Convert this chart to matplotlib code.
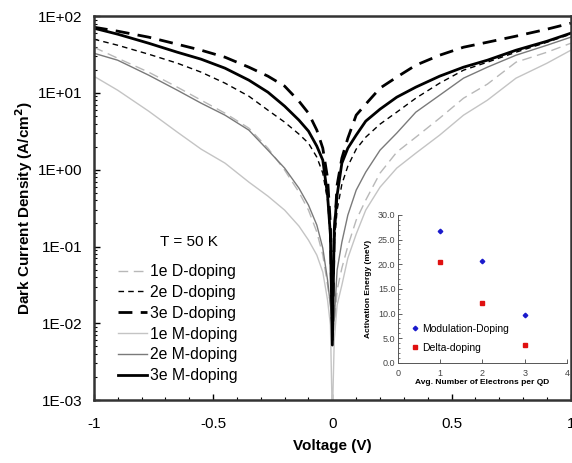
import numpy as np
import matplotlib
matplotlib.use("Agg")
import matplotlib.pyplot as plt
from matplotlib.ticker import LogLocator, MultipleLocator, FixedLocator, NullFormatter

plt.rcParams['font.family'] = ['Liberation Sans', 'DejaVu Sans']

# voltage sample points (V)
voltage = [-1, -0.9, -0.77, -0.65, -0.55, -0.45, -0.35, -0.27, -0.2, -0.14, -0.1,
           -0.065, -0.04, -0.02, -0.008, 0, 0.008, 0.02, 0.04, 0.065, 0.1,
           0.14, 0.2, 0.27, 0.35, 0.45, 0.55, 0.65, 0.77, 0.9, 1]

# log10 of dark current density (A/cm^2)
log_d1 = [1.596, 1.453, 1.271, 1.076, 0.906, 0.737, 0.542, 0.281, -0.005, -0.292, -0.526,
          -0.812, -1.112, -1.503, -1.763, -1.958, -2.089, -1.568, -1.281, -0.995, -0.656,
          -0.396, -0.044, 0.229, 0.424, 0.672, 0.932, 1.115, 1.401, 1.531, 1.648]
log_d2 = [1.701, 1.622, 1.505, 1.388, 1.271, 1.128, 0.958, 0.776, 0.620, 0.464, 0.346,
          0.164, -0.044, -0.396, -0.917, -2.089, -0.982, -0.526, -0.188, 0.047, 0.268,
          0.424, 0.594, 0.750, 0.932, 1.128, 1.297, 1.401, 1.531, 1.661, 1.766]
log_d3 = [1.857, 1.805, 1.727, 1.635, 1.557, 1.466, 1.336, 1.219, 1.089, 0.893, 0.737,
          0.516, 0.281, -0.109, -0.721, -2.219, -0.852, -0.201, 0.151, 0.411, 0.711,
          0.854, 1.063, 1.206, 1.362, 1.492, 1.596, 1.661, 1.740, 1.831, 1.909]
log_m1 = [1.219, 1.036, 0.763, 0.490, 0.268, 0.086, -0.161, -0.344, -0.526, -0.734, -0.917,
          -1.112, -1.333, -1.698, -2.023, -3.26, -2.219, -1.763, -1.503, -1.151, -0.839,
          -0.526, -0.227, 0.021, 0.216, 0.451, 0.711, 0.906, 1.193, 1.388, 1.557]
log_m2 = [1.518, 1.427, 1.232, 1.036, 0.867, 0.711, 0.516, 0.255, 0.021, -0.240, -0.461,
          -0.721, -1.021, -1.438, -1.763, -2.089, -1.958, -1.307, -0.943, -0.591, -0.266,
          -0.031, 0.255, 0.477, 0.750, 0.971, 1.193, 1.336, 1.492, 1.622, 1.727]
log_m3 = [1.844, 1.766, 1.648, 1.531, 1.440, 1.323, 1.167, 1.010, 0.828, 0.646, 0.503,
          0.307, 0.125, -0.331, -0.852, -2.284, -0.786, -0.331, 0.086, 0.281, 0.451,
          0.633, 0.789, 0.945, 1.076, 1.219, 1.336, 1.427, 1.557, 1.674, 1.779]

# inset: activation energy (meV) vs electrons per QD
electrons = [1, 2, 3]
ea_mod = [26.7, 20.7, 9.8]
ea_delta = [20.5, 12.2, 3.6]

fig = plt.figure(figsize=(5.72, 4.63), dpi=100)
ax = fig.add_axes([0.164, 0.136, 0.834, 0.829])

curves = [
    (log_d1, dict(color='#b8b8b8', lw=1.0, ls=(0, (7, 4))), '1e D-doping'),
    (log_d2, dict(color='black', lw=1.0, ls=(0, (4, 3))), '2e D-doping'),
    (log_d3, dict(color='black', lw=2.0, ls=(0, (5, 3))), '3e D-doping'),
    (log_m1, dict(color='#c4c4c4', lw=1.0), '1e M-doping'),
    (log_m2, dict(color='#7a7a7a', lw=1.0), '2e M-doping'),
    (log_m3, dict(color='black', lw=2.0), '3e M-doping'),
]
for logj, style, name in curves:
    ax.plot(voltage, 10 ** np.array(logj), label=name, **style)

ax.set_yscale('log')
ax.set_xlim(-1, 1)
ax.set_ylim(1e-3, 1e2)
ax.set_yticks([1e-3, 1e-2, 1e-1, 1e0, 1e1, 1e2])
ax.set_yticklabels(['1E-03', '1E-02', '1E-01', '1E+00', '1E+01', '1E+02'])
ax.yaxis.set_minor_locator(LogLocator(base=10, subs=np.arange(2, 10)))
ax.yaxis.set_minor_formatter(NullFormatter())
ax.set_xticks([-1, -0.5, 0, 0.5, 1])
ax.set_xticklabels(['-1', '-0.5', '0', '0.5', '1'])
ax.xaxis.set_minor_locator(MultipleLocator(0.1))
ax.tick_params(which='both', direction='in', labelsize=11)
ax.tick_params(axis='x', pad=12)
ax.tick_params(axis='y', pad=8.5)
ax.tick_params(which='major', length=4, width=1)
ax.tick_params(which='minor', length=2.5, width=0.8)
for s in ax.spines.values():
    s.set_linewidth(1.8)
    s.set_color('#333333')

ax.set_xlabel('Voltage (V)', fontsize=11, fontweight='bold', labelpad=6)
ax.set_ylabel('Dark Current Density (A/cm$^\\mathbf{2}$)', fontsize=11, fontweight='bold', labelpad=2)

ax.text(-0.6, 0.115, 'T = 50 K', fontsize=11, ha='center', va='center')

ax.legend(loc='upper left', bbox_to_anchor=(0.05, 0.354), frameon=False, fontsize=11.3,
          handlelength=1.85, handletextpad=0.2, labelspacing=0.37, borderaxespad=0,
          borderpad=0)

# inset
ins = fig.add_axes([0.696, 0.216, 0.295, 0.320])
ins.plot(electrons, ea_mod, ls='none', marker='D', ms=2.3, color='#1a1acc', label='Modulation-Doping')
ins.plot(electrons, ea_delta, ls='none', marker='s', ms=3.5, color='#e01010', label='Delta-doping')
ins.set_xlim(0, 4)
ins.set_ylim(0, 30)
ins.xaxis.set_major_locator(FixedLocator([0, 1, 2, 3, 4]))
ins.yaxis.set_major_locator(FixedLocator([0, 5, 10, 15, 20, 25, 30]))
ins.yaxis.set_minor_locator(MultipleLocator(1))
ins.set_yticklabels(['0.0', '5.0', '10.0', '15.0', '20.0', '25.0', '30.0'])
ins.tick_params(which='both', direction='in', labelsize=6.5, colors='#444444', pad=2)
ins.tick_params(axis='x', pad=4)
ins.tick_params(which='major', length=3, width=0.6)
ins.tick_params(which='minor', length=1.5, width=0.5)
ins.spines['top'].set_visible(False)
ins.spines['right'].set_visible(False)
for s in ['left', 'bottom']:
    ins.spines[s].set_linewidth(0.7)
    ins.spines[s].set_color('#555555')
ins.set_xlabel('Avg. Number of Electrons per QD', fontsize=6, fontweight='bold', labelpad=1)
ins.set_ylabel('Activation Energy (meV)', fontsize=6, fontweight='bold', labelpad=4)
ins.legend(loc='lower left', bbox_to_anchor=(0.05, 0.04), frameon=False, fontsize=7.5,
           handlelength=0.8, handletextpad=0.3, labelspacing=0.9, borderaxespad=0)

fig.savefig('out.png', dpi=100)
